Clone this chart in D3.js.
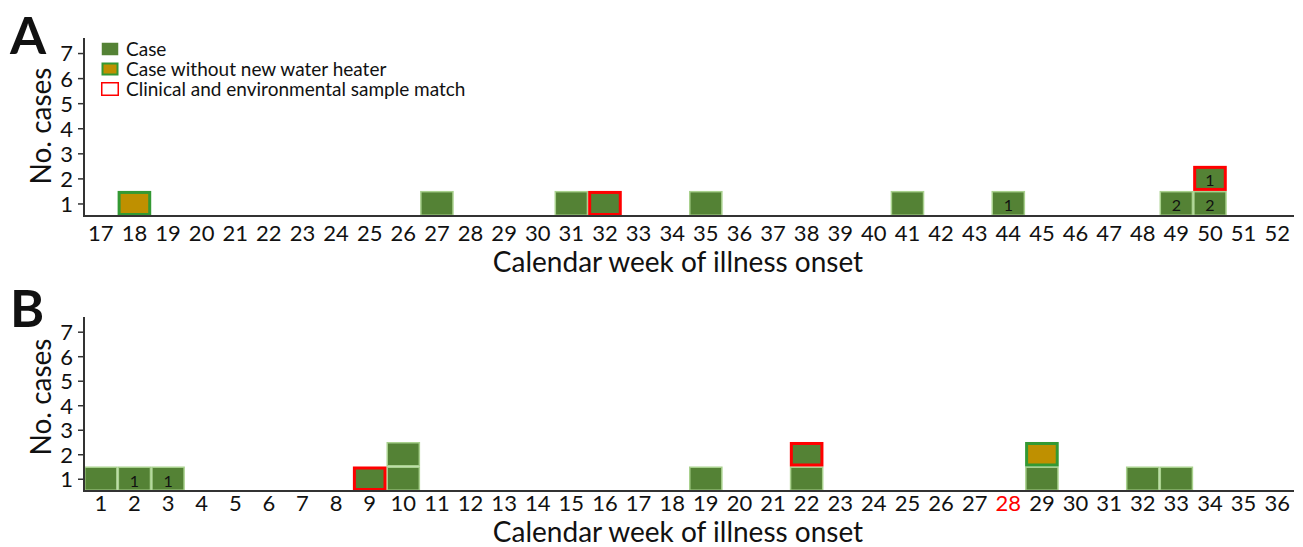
<!DOCTYPE html>
<html>
<head>
<meta charset="utf-8">
<script src="https://cdn.jsdelivr.net/npm/d3@7"></script>
<style>
  body { margin: 0; background: #fff; }
  svg { display: block; }
  text { font-family: Lato, "Noto Sans", sans-serif; }
</style>
</head>
<body>
<div id="chart"></div>
<script>
// Week categories for each panel
const weeksA = [17, 18, 19, 20, 21, 22, 23, 24, 25, 26, 27, 28, 29, 30, 31, 32, 33, 34,
                35, 36, 37, 38, 39, 40, 41, 42, 43, 44, 45, 46, 47, 48, 49, 50, 51, 52];
const weeksB = [1, 2, 3, 4, 5, 6, 7, 8, 9, 10, 11, 12, 13, 14, 15, 16, 17, 18,
                19, 20, 21, 22, 23, 24, 25, 26, 27, 28, 29, 30, 31, 32, 33, 34, 35, 36];
const yTicks = [1, 2, 3, 4, 5, 6, 7];

// Each case is one cell: [week, stack position, kind, label]
// kind: "case" | "noHeater" | "match"
const casesA = [
  [18, 1, "noHeater", ""],
  [27, 1, "case", ""],
  [31, 1, "case", ""],
  [32, 1, "match", ""],
  [35, 1, "case", ""],
  [41, 1, "case", ""],
  [44, 1, "case", "1"],
  [49, 1, "case", "2"],
  [50, 1, "case", "2"],
  [50, 2, "match", "1"]
];
const casesB = [
  [1, 1, "case", ""],
  [2, 1, "case", "1"],
  [3, 1, "case", "1"],
  [9, 1, "match", ""],
  [10, 1, "case", ""],
  [10, 2, "case", ""],
  [19, 1, "case", ""],
  [22, 1, "case", ""],
  [22, 2, "match", ""],
  [29, 1, "case", ""],
  [29, 2, "noHeater", ""],
  [32, 1, "case", ""],
  [33, 1, "case", ""]
];
const redWeeksB = [28];

const legendItems = [
  ["case", "Case"],
  ["noHeater", "Case without new water heater"],
  ["matchOnly", "Clinical and environmental sample match"]
];

const styles = {
  case:      { fill: "#548235", stroke: "#a9d18e", sw: 1.5 },
  noHeater:  { fill: "#bf9000", stroke: "#339933", sw: 3 },
  match:     { fill: "#548235", stroke: "#ff0000", sw: 3 },
  matchOnly: { fill: "#ffffff", stroke: "#ff0000", sw: 1.5 }
};

const W = 1303, H = 547;
const svg = d3.select("#chart").append("svg")
  .attr("width", W).attr("height", H);

// p: layout numbers for one panel
function drawPanel(p, weeks, cases, redWeeks, showLegend) {
  const { letter, top, bottom } = p;
  const g = svg.append("g");
  const x = d3.scaleBand().domain(weeks).range([84, 1294]).padding(0);
  const y = d3.scaleLinear().domain([0.5, 7.6]).range([bottom, top]);

  // cells (thin-bordered first so the thick borders sit on top)
  const ordered = cases.slice().sort((a, b) => (styles[a[2]].sw - styles[b[2]].sw));
  g.selectAll("rect.cell").data(ordered).enter().append("rect")
    .attr("class", "cell")
    .attr("x", d => x(d[0]) + styles[d[2]].sw / 2)
    .attr("y", d => y(d[1] + 0.5) + styles[d[2]].sw / 2)
    .attr("width", d => x.bandwidth() - styles[d[2]].sw)
    .attr("height", d => y(d[1] - 0.5) - y(d[1] + 0.5) - styles[d[2]].sw)
    .attr("fill", d => styles[d[2]].fill)
    .attr("stroke", d => styles[d[2]].stroke)
    .attr("stroke-width", d => styles[d[2]].sw);

  g.selectAll("text.cl").data(cases.filter(d => d[3])).enter().append("text")
    .attr("class", "cl")
    .attr("x", d => x(d[0]) + x.bandwidth() / 2)
    .attr("y", d => y(d[1]) + 8)
    .attr("text-anchor", "middle")
    .attr("font-size", 16)
    .attr("fill", "#111")
    .text(d => d[3]);

  // y axis
  const yAxis = g.append("g").attr("transform", "translate(84,0)")
    .call(d3.axisLeft(y).tickValues(yTicks).tickSize(6).tickSizeOuter(0).tickFormat(d3.format("d")));
  yAxis.select(".domain").attr("stroke", "#333").attr("stroke-width", 2)
    .attr("d", `M0,${top}V${bottom}`);
  yAxis.selectAll(".tick line").attr("stroke", "#333").attr("stroke-width", 1.5);
  yAxis.selectAll(".tick text").attr("font-size", 22).attr("fill", "#111")
    .attr("font-family", "Lato").attr("x", -11).attr("dy", "0.36em");

  // x axis
  const xAxis = g.append("g").attr("transform", `translate(0,${bottom})`)
    .call(d3.axisBottom(x).tickSize(0).tickSizeOuter(0));
  xAxis.select(".domain").attr("stroke", "#333").attr("stroke-width", 2)
    .attr("d", "M83,0H1294");
  xAxis.selectAll(".tick text").attr("font-size", 22)
    .attr("font-family", "Lato")
    .attr("y", p.tickBase).attr("dy", 0)
    .attr("fill", d => redWeeks.includes(d) ? "#ff0000" : "#111");

  g.append("text")
    .attr("x", 678).attr("y", bottom + p.titleBase)
    .attr("text-anchor", "middle")
    .attr("font-size", 28)
    .attr("fill", "#111")
    .text("Calendar week of illness onset");

  g.append("text")
    .attr("transform", `translate(51,${p.yLabelMid}) rotate(-90)`)
    .attr("text-anchor", "middle")
    .attr("font-size", 28)
    .attr("fill", "#111")
    .text("No. cases");

  g.append("text")
    .attr("x", 10).attr("y", p.letterBase)
    .attr("font-family", "Liberation Sans, Arial, sans-serif")
    .attr("font-weight", "bold")
    .attr("font-size", 52)
    .attr("fill", "#111")
    .text(letter);

  if (showLegend) {
    const lg = g.append("g").attr("transform", "translate(101,42)");
    const row = lg.selectAll("g").data(legendItems).enter().append("g")
      .attr("transform", (d, i) => `translate(0,${i * 20})`);
    row.append("rect")
      .attr("x", d => styles[d[0]].sw / 2)
      .attr("y", d => styles[d[0]].sw / 2)
      .attr("width", d => 18 - styles[d[0]].sw)
      .attr("height", d => 14 - styles[d[0]].sw)
      .attr("fill", d => styles[d[0]].fill)
      .attr("stroke", d => d[0] === "case" ? "none" : styles[d[0]].stroke)
      .attr("stroke-width", d => d[0] === "noHeater" ? 2 : styles[d[0]].sw);
    row.append("text")
      .attr("x", 25).attr("y", 13.5)
      .attr("font-size", 19)
      .attr("fill", "#111")
      .text(d => d[1]);
  }
}

drawPanel({ letter: "A", top: 38, bottom: 216, tickBase: 25, titleBase: 56, yLabelMid: 126, letterBase: 54 },
  weeksA, casesA, [], true);
drawPanel({ letter: "B", top: 317, bottom: 491, tickBase: 20, titleBase: 51, yLabelMid: 397, letterBase: 327 },
  weeksB, casesB, redWeeksB, false);
</script>
</body>
</html>
